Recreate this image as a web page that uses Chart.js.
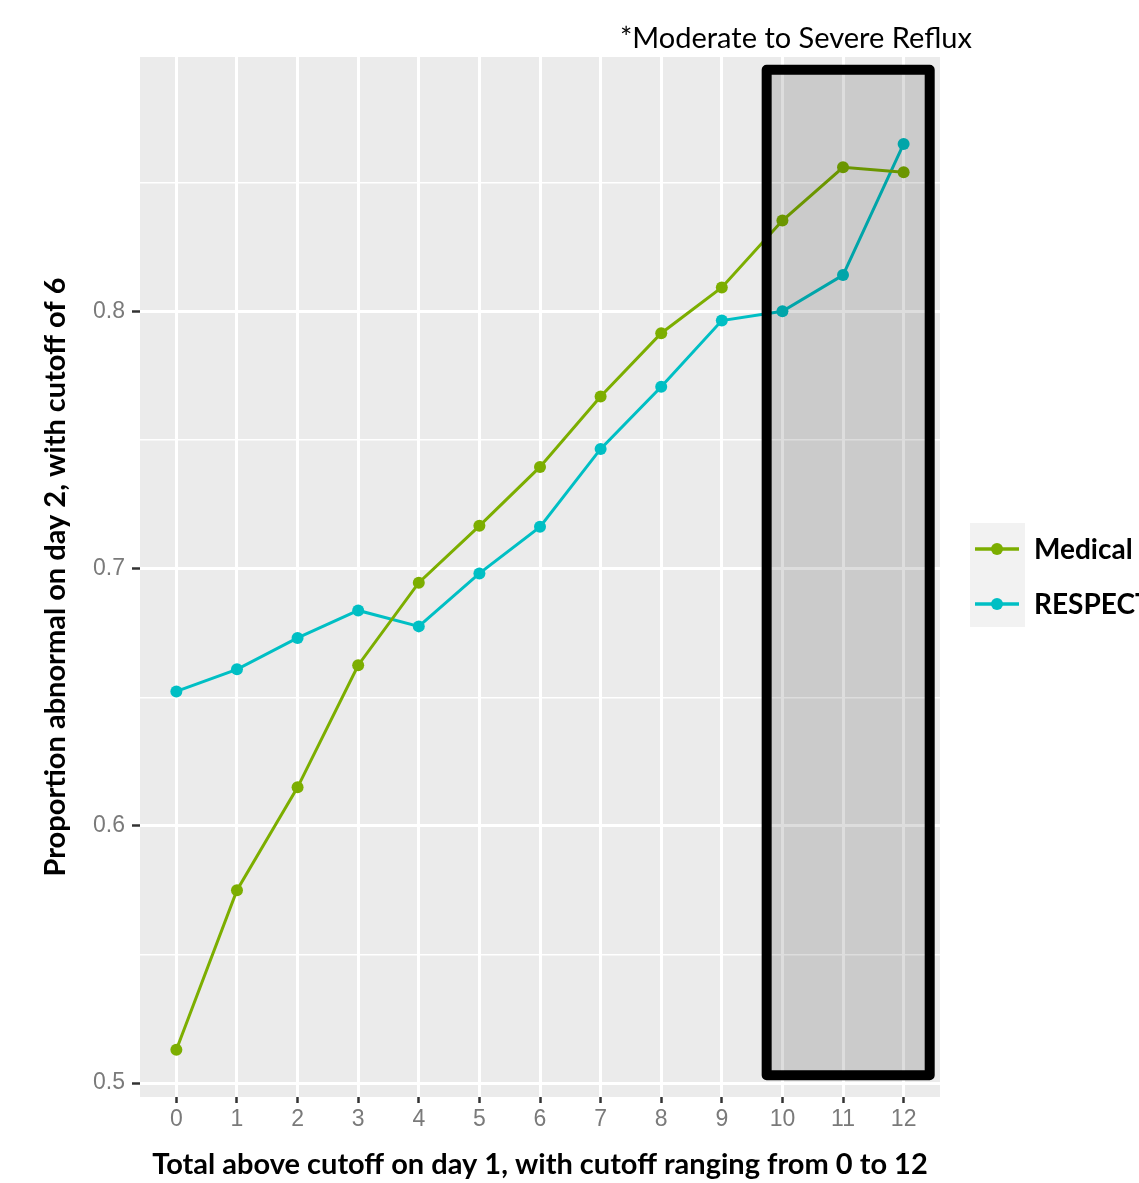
<!DOCTYPE html>
<html><head><meta charset="utf-8">
<script src="https://cdn.jsdelivr.net/npm/chart.js@4.4.1/dist/chart.umd.min.js"></script>
<style>html,body{margin:0;padding:0;background:#fff;}#wrap{width:1139px;height:1183px;}</style>
</head><body><div id="wrap"><canvas id="c" width="1139" height="1183"></canvas></div>
<script>
const categories = [0,1,2,3,4,5,6,7,8,9,10,11,12];
const medical = [0.513, 0.575, 0.615, 0.6625, 0.6946, 0.7167, 0.7396, 0.767, 0.7916, 0.8094, 0.8354, 0.8561, 0.8542];
const respect = [0.6523, 0.6609, 0.6731, 0.6838, 0.6776, 0.6982, 0.7163, 0.7466, 0.7708, 0.7965, 0.8001, 0.8142, 0.8652];
const seriesNames = ['Medical', 'RESPECT'];
const seriesColors = ['#7CAE00', '#00BFC4'];
const yTickValues = [0.5, 0.55, 0.6, 0.65, 0.7, 0.75, 0.8, 0.85];
const yMajorTicks = [0.5, 0.6, 0.7, 0.8];
const highlightX = [9.74, 12.43];
const highlightY = [0.5031, 0.894];
const highlightLabel = '*Moderate to Severe Reflux';
const xTitle = 'Total above cutoff on day 1, with cutoff ranging from 0 to 12';
const yTitle = 'Proportion abnormal on day 2, with cutoff of 6';

const isMajor = v => yMajorTicks.some(m => Math.abs(m - v) < 1e-6);

const panelBg = {
  id: 'panelBg',
  beforeDraw(chart) {
    const {ctx, chartArea: a} = chart;
    ctx.save();
    ctx.fillStyle = '#ebebeb';
    ctx.fillRect(a.left, a.top, a.right - a.left, a.bottom - a.top);
    ctx.restore();
  }
};

const highlight = {
  id: 'highlight',
  afterDatasetsDraw(chart) {
    const {ctx, scales: {x, y}} = chart;
    const x0 = x.getPixelForValue(highlightX[0]);
    const x1 = x.getPixelForValue(highlightX[1]);
    const y0 = y.getPixelForValue(highlightY[1]);
    const y1 = y.getPixelForValue(highlightY[0]);
    ctx.save();
    ctx.fillStyle = 'rgba(0,0,0,0.135)';
    ctx.fillRect(x0, y0, x1 - x0, y1 - y0);
    ctx.lineWidth = 10;
    ctx.lineJoin = 'round';
    ctx.strokeStyle = '#000';
    ctx.strokeRect(x0, y0, x1 - x0, y1 - y0);
    ctx.fillStyle = '#000';
    ctx.font = '29px Lato';
    ctx.textAlign = 'left';
    ctx.textBaseline = 'alphabetic';
    ctx.fillText(highlightLabel, 620, 48);
    ctx.restore();
  }
};

const customLegend = {
  id: 'customLegend',
  afterDraw(chart) {
    const {ctx} = chart;
    ctx.save();
    ctx.fillStyle = '#f2f2f2';
    ctx.fillRect(970, 523, 55, 104);
    const ys = [549, 604];
    chart.data.datasets.forEach((ds, i) => {
      const yy = ys[i];
      ctx.strokeStyle = ds.borderColor;
      ctx.lineWidth = 3.5;
      ctx.beginPath();
      ctx.moveTo(975, yy); ctx.lineTo(1019, yy); ctx.stroke();
      ctx.fillStyle = ds.backgroundColor;
      ctx.beginPath();
      ctx.arc(997, yy, 6, 0, Math.PI * 2); ctx.fill();
      ctx.fillStyle = '#000';
      ctx.font = 'bold 28px Lato';
      ctx.textBaseline = 'middle';
      ctx.textAlign = 'left';
      ctx.fillText(ds.label, 1034, yy + 1);
    });
    ctx.restore();
  }
};

new Chart(document.getElementById('c'), {
  type: 'line',
  data: {
    datasets: [
      { label: seriesNames[0], data: categories.map((c, i) => ({x: c, y: medical[i]})),
        borderColor: seriesColors[0], backgroundColor: seriesColors[0], borderWidth: 3,
        pointRadius: 6, pointBorderWidth: 0, pointHoverRadius: 6, tension: 0 },
      { label: seriesNames[1], data: categories.map((c, i) => ({x: c, y: respect[i]})),
        borderColor: seriesColors[1], backgroundColor: seriesColors[1], borderWidth: 3,
        pointRadius: 6, pointBorderWidth: 0, pointHoverRadius: 6, tension: 0 }
    ]
  },
  options: {
    responsive: false,
    animation: false,
    devicePixelRatio: 1,
    layout: { padding: { left: 0, top: 57, right: 199, bottom: 0 } },
    plugins: { legend: { display: false }, tooltip: { enabled: false } },
    scales: {
      x: {
        type: 'linear', min: -0.6, max: 12.6,
        afterBuildTicks: s => { s.ticks = categories.map(v => ({value: v})); },
        afterFit: s => { s.height = 86; },
        border: { display: false },
        grid: { color: '#ffffff', lineWidth: 3, tickLength: 6, tickColor: '#333333', tickWidth: 2.5 },
        ticks: { color: '#7a7a7a', font: { family: 'Liberation Sans', size: 23 }, padding: 3,
                 callback: v => String(v), maxRotation: 0, autoSkip: false },
        title: { display: true, text: xTitle, color: '#000',
                 font: { family: 'Lato', size: 29, weight: 'bold' }, padding: { top: 0, bottom: 1 } }
      },
      y: {
        type: 'linear', min: 0.4946, max: 0.899,
        afterBuildTicks: s => { s.ticks = yTickValues.map(v => ({value: v})); },
        afterFit: s => { s.width = 140; },
        border: { display: false },
        grid: { color: '#ffffff',
                lineWidth: c => isMajor(c.tick.value) ? 3 : 1.5,
                tickLength: 8,
                tickColor: c => isMajor(c.tick.value) ? '#333333' : 'rgba(0,0,0,0)',
                tickWidth: 2.5 },
        ticks: { color: '#7a7a7a', font: { family: 'Liberation Sans', size: 23 }, padding: 7,
                 callback: v => isMajor(v) ? v.toFixed(1) : '', autoSkip: false },
        title: { display: true, text: yTitle, color: '#000',
                 font: { family: 'Lato', size: 29, weight: 'bold' }, padding: { top: 38, bottom: 0 } }
      }
    }
  },
  plugins: [panelBg, highlight, customLegend]
});
</script></body></html>
